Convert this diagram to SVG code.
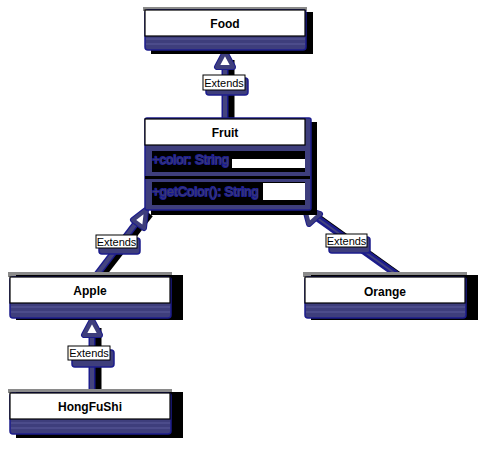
<svg xmlns="http://www.w3.org/2000/svg" width="487" height="449" viewBox="0 0 487 449">
<style>
.shadow{fill:#000}
.gray{fill:#8a8a8a}
.body{fill:#3e3e7c;stroke:#1c1c8c;stroke-width:1.5}
.head{fill:#fff;stroke:#000;stroke-width:1.2}
.rule{stroke:#5a5a9a;stroke-width:1;fill:none}
.name{font-family:"Liberation Sans",Arial,sans-serif;font-size:12px;font-weight:bold;fill:#000;text-anchor:middle}
.member{font-family:"Liberation Sans",Arial,sans-serif;font-size:13px;fill:#3a3a6e;stroke:#1e1e96;stroke-width:1.8;paint-order:stroke;stroke-linejoin:round}
.lnS{stroke:#000;stroke-width:7;fill:none}
.lnO{stroke:#1c1c8c;stroke-width:7;fill:none}
.lnI{stroke:#44447e;stroke-width:4;fill:none}
.lnThin{stroke:#44447e;stroke-width:2;fill:none}
.tri{fill:#fff;stroke:#3e3e7c;stroke-width:4;stroke-linejoin:round}
.triO{fill:none;stroke:#1c1c8c;stroke-width:6;stroke-linejoin:round}
.lblS{fill:#3e3e7c;stroke:#1c1c8c;stroke-width:1.5}
.lbl{fill:#fff;stroke:#000;stroke-width:1}
.lt{font-family:"Liberation Sans",Arial,sans-serif;font-size:11px;fill:#000;text-anchor:middle}
</style>

<g id="connectors">
  <g id="c-fruit-food">
    <line class="lnS" x1="231" y1="120" x2="231" y2="60"/>
    <line class="lnO" x1="225" y1="118" x2="225" y2="66"/>
    <line class="lnI" x1="225" y1="118" x2="225" y2="66"/>
    <polygon class="triO" points="225,52 217,67 233,67"/>
    <polygon class="tri" points="225,52 217,67 233,67"/>
    <rect class="lblS" x="206" y="78" width="42" height="17" rx="3"/>
    <rect class="lbl" x="203" y="75" width="42" height="15"/>
    <text class="lt" x="224" y="86.5">Extends</text>
  </g>
  <g id="c-apple-fruit">
    <line class="lnS" x1="100" y1="278" x2="150" y2="214"/>
    <line class="lnO" x1="95" y1="277" x2="140" y2="218"/>
    <line class="lnI" x1="95" y1="277" x2="140" y2="218"/>
    <polygon class="triO" points="146,210 133,220 144,228"/>
    <polygon class="tri" points="146,210 133,220 144,228"/>
    <rect class="lblS" x="99" y="238" width="41" height="16" rx="3"/>
    <rect class="lbl" x="96" y="235" width="41" height="13"/>
    <text class="lt" x="116.5" y="245.5">Extends</text>
  </g>
  <g id="c-orange-fruit">
    <line class="lnS" x1="404" y1="279" x2="316" y2="216"/>
    <line class="lnO" x1="400" y1="277" x2="313" y2="215"/>
    <line class="lnThin" x1="400" y1="277" x2="313" y2="215"/>
    <polygon class="triO" points="305,209 309,224 320,214"/>
    <polygon class="tri" points="305,209 309,224 320,214"/>
    <rect class="lblS" x="329" y="237" width="41" height="16" rx="3"/>
    <rect class="lbl" x="326" y="234" width="41" height="13"/>
    <text class="lt" x="346.5" y="244.5">Extends</text>
  </g>
  <g id="c-hongfushi-apple">
    <line class="lnS" x1="98" y1="395" x2="98" y2="328"/>
    <line class="lnO" x1="92" y1="393" x2="92" y2="334"/>
    <line class="lnI" x1="92" y1="393" x2="92" y2="334"/>
    <polygon class="triO" points="92,320 84,335 100,335"/>
    <polygon class="tri" points="92,320 84,335 100,335"/>
    <rect class="lblS" x="72" y="350" width="42" height="17" rx="3"/>
    <rect class="lbl" x="68" y="346" width="42" height="14"/>
    <text class="lt" x="89" y="357">Extends</text>
  </g>
</g>

<g id="node-food">
  <rect class="gray" x="143" y="7" width="164" height="4"/>
  <rect class="shadow" x="151" y="12" width="162" height="42"/>
  <rect class="body" x="145" y="10" width="161" height="40" rx="3"/>
  <line class="rule" x1="146" y1="39" x2="305" y2="39"/>
  <line class="rule" x1="146" y1="44" x2="305" y2="44"/>
  <rect class="head" x="145" y="10" width="160" height="26"/>
  <text class="name" x="225" y="28">Food</text>
</g>

<g id="node-fruit">
  <rect class="shadow" x="151" y="122" width="166" height="93"/>
  <rect class="body" x="145" y="118" width="166" height="92" rx="2"/>
  <rect x="152" y="151" width="153" height="21" fill="#000"/>
  <rect x="232" y="159" width="73" height="9" fill="#fff"/>
  <rect x="152" y="182" width="153" height="23" fill="#000"/>
  <rect x="263" y="183" width="42" height="17" fill="#fff"/>
  <rect x="145" y="176" width="165" height="3" fill="#000"/>
  <rect class="head" x="145" y="119" width="160" height="26"/>
  <text class="name" x="225" y="137">Fruit</text>
  <text class="member" x="152" y="164">+color: String</text>
  <text class="member" x="152" y="196">+getColor(): String</text>
</g>

<g id="node-apple">
  <rect class="gray" x="8" y="272" width="164" height="5"/>
  <rect class="shadow" x="16" y="275" width="167" height="45"/>
  <rect class="body" x="10" y="277" width="161" height="41" rx="3"/>
  <line class="rule" x1="11" y1="307" x2="170" y2="307"/>
  <line class="rule" x1="11" y1="312" x2="170" y2="312"/>
  <rect class="head" x="10" y="277" width="160" height="26"/>
  <text class="name" x="90" y="295">Apple</text>
</g>

<g id="node-orange">
  <rect class="gray" x="303" y="272" width="164" height="5"/>
  <rect class="shadow" x="311" y="275" width="167" height="45"/>
  <rect class="body" x="305" y="277" width="161" height="41" rx="3"/>
  <line class="rule" x1="306" y1="307" x2="465" y2="307"/>
  <line class="rule" x1="306" y1="312" x2="465" y2="312"/>
  <rect class="head" x="305" y="277" width="160" height="26"/>
  <text class="name" x="385" y="296">Orange</text>
</g>

<g id="node-hongfushi">
  <rect class="gray" x="8" y="389" width="164" height="4"/>
  <rect class="shadow" x="16" y="392" width="167" height="46"/>
  <rect class="body" x="10" y="393" width="161" height="41" rx="3"/>
  <line class="rule" x1="11" y1="423" x2="170" y2="423"/>
  <line class="rule" x1="11" y1="428" x2="170" y2="428"/>
  <rect class="head" x="10" y="393" width="160" height="26"/>
  <text class="name" x="90" y="411">HongFuShi</text>
</g>
</svg>
